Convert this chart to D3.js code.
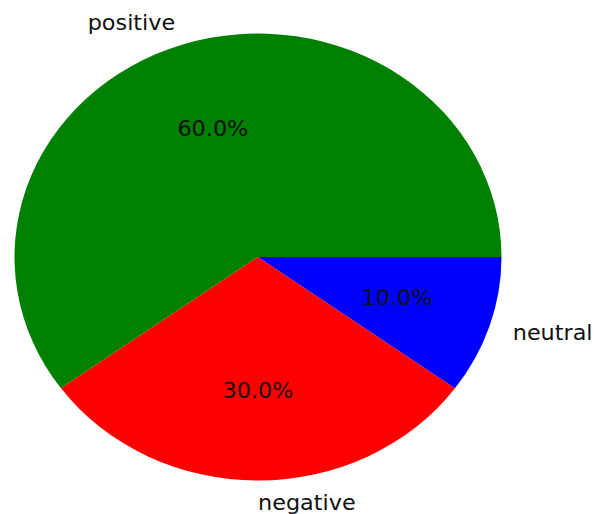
<!DOCTYPE html>
<html>
<head>
<meta charset="utf-8">
<script src="https://cdn.jsdelivr.net/npm/d3@7"></script>
<style>
  html, body { margin: 0; padding: 0; background: #fff; }
  svg { display: block; }
  text { font-family: "DejaVu Sans", sans-serif; fill: #111; }
</style>
</head>
<body>
<div id="chart"></div>
<script>
// slice data, in matplotlib order (counter-clockwise from 3 o'clock)
const labels = ['positive', 'negative', 'neutral'];
const values = [60, 30, 10];
const colors = ['#008000', '#ff0000', '#0000ff'];

const width = 602;
const height = 514;

// the original picture is stretched a bit horizontally
const cx = 258;
const cy = 257;
const ry = 223.5;
const rx = 243.5;
const fontSize = 20.5;

const svg = d3.select('#chart')
  .append('svg')
  .attr('width', width)
  .attr('height', height);

const g = svg.append('g')
  .attr('transform', `translate(${cx},${cy}) scale(${rx / ry},1)`);

const total = d3.sum(values);

// d3 measures angles clockwise from 12 o'clock; matplotlib starts at 3 o'clock going ccw
const pie = d3.pie()
  .sort(null)
  .value(d => d.value)
  .startAngle(Math.PI / 2)
  .endAngle(Math.PI / 2 - 2 * Math.PI);

const data = labels.map((l, i) => ({ label: l, value: values[i], color: colors[i] }));
const arcs = pie(data);

const arc = d3.arc().innerRadius(0).outerRadius(ry);
const labelArc = d3.arc().innerRadius(ry * 1.1).outerRadius(ry * 1.1);
const pctArc = d3.arc().innerRadius(ry * 0.6).outerRadius(ry * 0.6);

g.selectAll('path.slice')
  .data(arcs)
  .enter().append('path')
  .attr('class', 'slice')
  .attr('d', arc)
  .attr('fill', d => d.data.color);

g.selectAll('text.label')
  .data(arcs)
  .enter().append('text')
  .attr('class', 'label')
  .attr('x', d => labelArc.centroid(d)[0])
  .attr('y', d => labelArc.centroid(d)[1])
  .attr('dy', '0.33em')
  .attr('text-anchor', d => (Math.round(labelArc.centroid(d)[0] * 1000) >= 0 ? 'start' : 'end'))
  .style('font-size', `${fontSize}px`)
  .text(d => d.data.label);

g.selectAll('text.pct')
  .data(arcs)
  .enter().append('text')
  .attr('class', 'pct')
  .attr('x', d => pctArc.centroid(d)[0])
  .attr('y', d => pctArc.centroid(d)[1])
  .attr('dy', '0.33em')
  .attr('text-anchor', 'middle')
  .style('font-size', `${fontSize}px`)
  .text(d => `${(100 * d.value / total).toFixed(1)}%`);
</script>
</body>
</html>
